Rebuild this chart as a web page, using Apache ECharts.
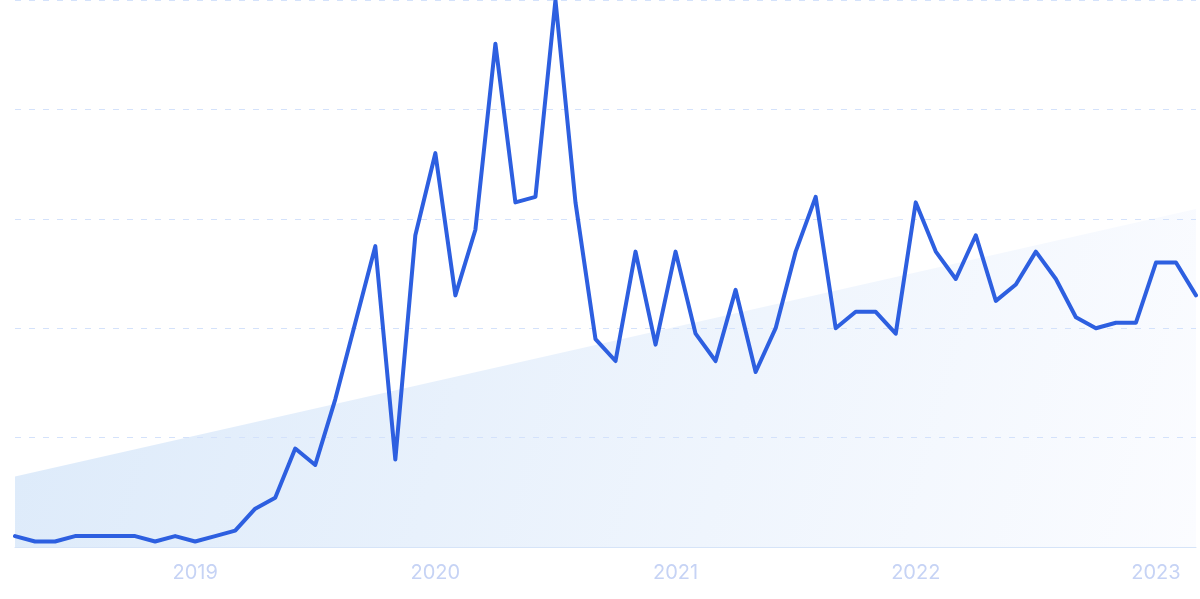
<!DOCTYPE html>
<html>
<head>
<meta charset="utf-8">
<script src="https://cdn.jsdelivr.net/npm/echarts@6/dist/echarts.min.js"></script>
<style>
html,body{margin:0;padding:0;background:#fff;}
#chart{width:1200px;height:599px;}
</style>
</head>
<body>
<div id="chart"></div>
<script>
// Monthly categories Apr 2018 .. Mar 2023
const months = [
 '2018-04','2018-05','2018-06','2018-07','2018-08','2018-09','2018-10','2018-11','2018-12',
 '2019-01','2019-02','2019-03','2019-04','2019-05','2019-06','2019-07','2019-08','2019-09','2019-10','2019-11','2019-12',
 '2020-01','2020-02','2020-03','2020-04','2020-05','2020-06','2020-07','2020-08','2020-09','2020-10','2020-11','2020-12',
 '2021-01','2021-02','2021-03','2021-04','2021-05','2021-06','2021-07','2021-08','2021-09','2021-10','2021-11','2021-12',
 '2022-01','2022-02','2022-03','2022-04','2022-05','2022-06','2022-07','2022-08','2022-09','2022-10','2022-11','2022-12',
 '2023-01','2023-02','2023-03'
];
const interest = [
 2,1,1,2,2,2,2,1,2,
 1,2,3,7,9,18,15,27,41,55,16,57,
 72,46,58,92,63,64,100,63,38,34,54,37,
 54,39,34,47,32,40,54,64,40,43,43,39,
 63,54,49,57,45,48,54,49,42,40,41,41,
 52,52,46
];
// Trend line endpoints: [month index, value]
const trendStart = [0, 12.9];
const trendEnd = [59, 61.8];
const yTicks = [0, 20, 40, 60, 80, 100];

const chart = echarts.init(document.getElementById('chart'));
chart.setOption({
  animation: false,
  grid: {left: 15, right: 4, top: 0, bottom: 52, containLabel: false},
  xAxis: [
    {
      type: 'category',
      data: months,
      boundaryGap: false,
      z: 3,
      axisLine: {show: true, lineStyle: {color: '#d6e4f8', width: 1}},
      axisTick: {show: false},
      splitLine: {show: false},
      axisLabel: {
        interval: function (i, v) { return v.slice(5) === '01'; },
        formatter: function (v) { return v.slice(0, 4); },
        color: '#c6d3f5',
        fontSize: 20,
        fontFamily: 'Inter, Roboto, sans-serif',
        margin: 16
      }
    },
    {
      type: 'value',
      min: 0,
      max: months.length - 1,
      show: false
    }
  ],
  yAxis: {
    type: 'value',
    min: yTicks[0],
    max: yTicks[yTicks.length - 1],
    interval: 20,
    z: 3,
    axisLabel: {show: false},
    axisLine: {show: false},
    axisTick: {show: false},
    splitLine: {show: true, lineStyle: {color: '#d4e2fb', type: [6, 8], width: 1.2}}
  },
  series: [
    {
      type: 'line',
      xAxisIndex: 1,
      data: [trendStart, trendEnd],
      symbol: 'none',
      lineStyle: {width: 0},
      areaStyle: {
        color: {
          type: 'linear', x: 0, y: 0, x2: 1, y2: 1,
          colorStops: [
            {offset: 0, color: '#dceafa'},
            {offset: 1, color: '#fbfcff'}
          ]
        },
        opacity: 1
      },
      z: 1,
      silent: true
    },
    {
      type: 'line',
      data: interest,
      symbol: 'none',
      lineStyle: {color: '#2d5fe0', width: 4, join: 'round', cap: 'round'},
      z: 5
    }
  ]
});
</script>
</body>
</html>
